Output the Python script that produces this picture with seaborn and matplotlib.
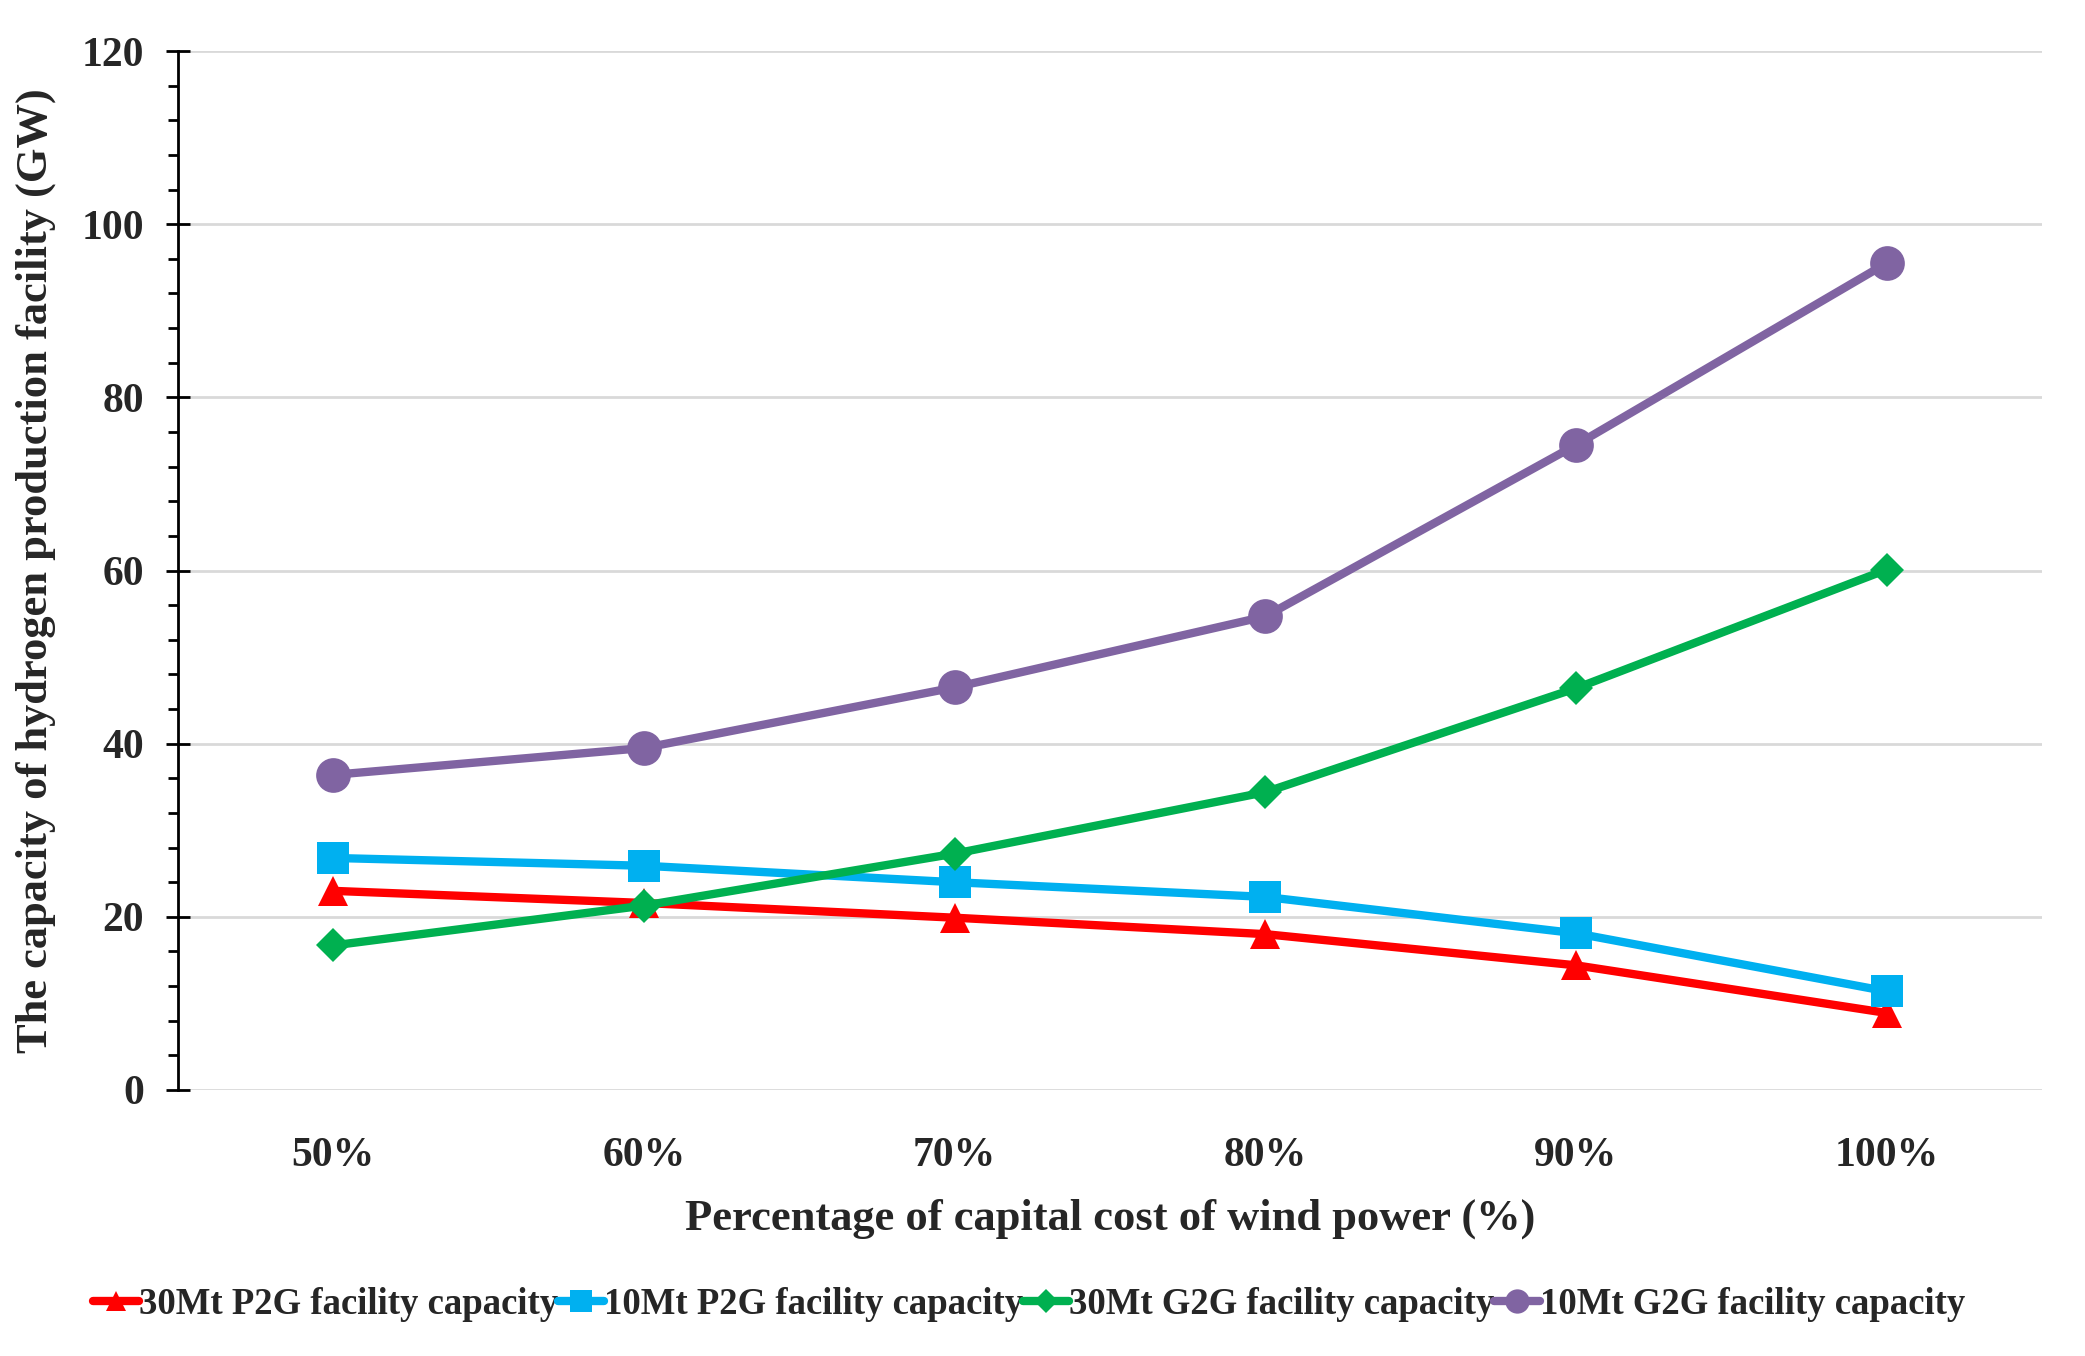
import numpy as np
import pandas as pd
import matplotlib
matplotlib.use("Agg")
import matplotlib.pyplot as plt
import seaborn as sns
from matplotlib.pyplot import MultipleLocator

# values
cost_labels = ['50%', '60%', '70%', '80%', '90%', '100%']
p2g_30mt = [23.0, 21.6, 19.9, 18.0, 14.4, 8.9]
p2g_10mt = [26.8, 25.9, 24.0, 22.3, 18.1, 11.4]
g2g_30mt = [16.7, 21.3, 27.3, 34.4, 46.4, 60.1]
g2g_10mt = [36.4, 39.5, 46.5, 54.7, 74.5, 95.5]

series_names = ['30Mt P2G facility capacity', '10Mt P2G facility capacity',
                '30Mt G2G facility capacity', '10Mt G2G facility capacity']
series_vals = [p2g_30mt, p2g_10mt, g2g_30mt, g2g_10mt]
colors = ['#FF0000', '#00B0F0', '#00B050', '#8064A2']
markers = ['^', 's', 'D', 'o']
msizes = [21, 23, 17, 25]

sns.set_style('white')
plt.rcParams['font.family'] = ['Liberation Serif', 'DejaVu Serif']
plt.rcParams['font.weight'] = 'bold'

# axes box in pixels (left, top, right, bottom)
L, T, R, B = 178, 51, 2042, 1090
W, H = 2085, 1356
fig = plt.figure(figsize=(W / 100, H / 100), dpi=100)
ax = fig.add_axes([L / W, 1 - B / H, (R - L) / W, (B - T) / H])

for name, vals, c, m, ms in zip(series_names, series_vals, colors, markers, msizes):
    df = pd.DataFrame({'cost': cost_labels, 'cap': vals})
    sns.lineplot(data=df, x='cost', y='cap', ax=ax, color=c, marker=m, markersize=ms,
                 markeredgewidth=0, linewidth=6, sort=False, label=name)

ax.set_xlim(-0.5, 5.5)
ax.set_ylim(0, 120)
ax.yaxis.set_major_locator(MultipleLocator(20))
ax.yaxis.set_minor_locator(MultipleLocator(4))
ax.grid(axis='y', color='#D9D9D9', linewidth=2)
ax.set_axisbelow(True)
for s in ['top', 'right', 'bottom']:
    ax.spines[s].set_visible(False)
ax.spines['left'].set_color('black')
ax.spines['left'].set_linewidth(2)
ax.tick_params(axis='y', which='both', left=True)
ax.tick_params(axis='y', which='major', direction='inout', length=17, width=2,
               labelsize=30, pad=16, color='black')
ax.tick_params(axis='y', which='minor', direction='out', length=7, width=2, color='black')
ax.tick_params(axis='x', which='both', bottom=False, length=0, labelsize=30, pad=34)
for lab in ax.get_xticklabels() + ax.get_yticklabels():
    lab.set_fontweight('bold')

ax.set_xlabel('Percentage of capital cost of wind power (%)', fontsize=32,
              fontweight='bold', labelpad=17)
ax.set_ylabel('The capacity of hydrogen production facility (GW)', fontsize=32,
              fontweight='bold', labelpad=18)

leg = ax.legend(loc='center', bbox_to_anchor=((1029 - L) / (R - L), -(1304 - B) / (B - T)),
                ncol=4, frameon=False, fontsize=26.5, handlelength=1.25, handletextpad=0.0,
                columnspacing=0.0, markerscale=0.7)
for t in leg.get_texts():
    t.set_fontweight('bold')

fig.savefig('out.png', dpi=100)
